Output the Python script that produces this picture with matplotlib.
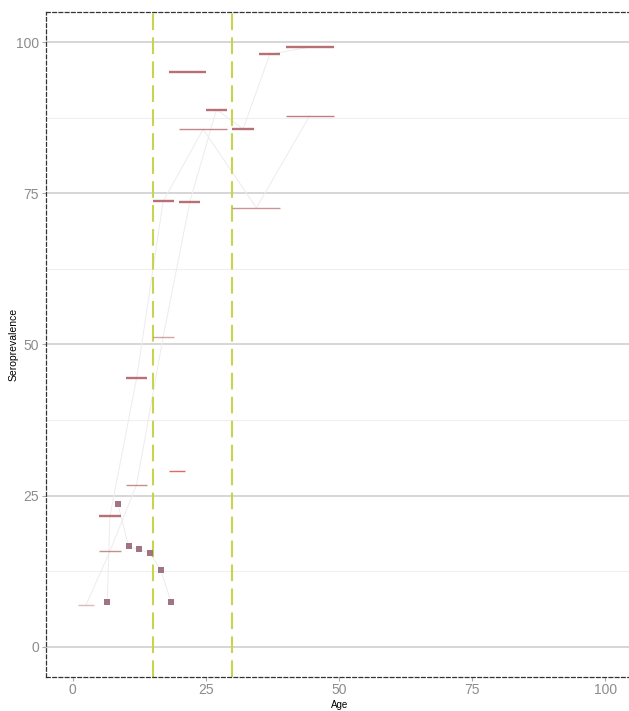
import matplotlib
matplotlib.use("Agg")
import matplotlib.pyplot as plt
import numpy as np

# ---- data -------------------------------------------------------------
# study A: age bands and seroprevalence (%)
a_age_start = [1, 5, 10, 15, 20, 25, 30, 35, 40]
a_age_end = [4, 9, 14, 19, 24, 29, 34, 39, 49]
a_sero = [6.9, 15.8, 26.8, 51.3, 73.6, 88.85, 85.65, 98.0, 99.2]

# study B: age bands and seroprevalence (%), first group measured at a single age
b_point_age = [6.5]
b_point_sero = [7.4]
b_age_start = [5, 10, 15, 20, 30, 40]
b_age_end = [9, 14, 19, 29, 39, 49]
b_sero = [21.6, 44.4, 73.7, 85.6, 72.6, 87.85]

# study C: single-age groups
c_age = [8.5, 10.5, 12.5, 14.5, 16.5, 18.5]
c_sero = [23.6, 16.6, 16.1, 15.5, 12.75, 7.4]

# single-group studies
d_age_start = [18, 18]
d_age_end = [21, 25]
d_sero = [29.0, 95.0]

# age cut-offs
age_cutoffs = [15, 30]

# ---- styles -----------------------------------------------------------
seg_color = "#b5686c"
a_alpha = [0.45, 0.75, 0.75, 0.6, 0.95, 0.95, 0.95, 0.95, 0.95]
a_lw = [1.0, 1.0, 1.0, 1.0, 1.7, 1.7, 1.7, 1.7, 1.7]
b_alpha = [0.95, 0.95, 0.95, 0.8, 0.7, 0.85]
b_lw = [1.7, 1.7, 1.7, 1.0, 1.0, 1.0]
d_color = ["#d96f5b", seg_color]
d_alpha = [1.0, 0.95]
d_lw = [1.0, 1.7]

link_color = "#ececec"
point_color = "#9c6d7e"
cutoff_color = "#c6d44e"
tick_color = "#8c8c8c"

W, H = 629, 711
fig = plt.figure(figsize=(W / 100, H / 100), dpi=100)
left_px, right_px, top_px, bottom_px = 46.0, 632.0, 12.0, 677.0
ax_w = right_px - left_px
ax_h = bottom_px - top_px
ax = fig.add_axes([left_px / W, (H - bottom_px) / H, ax_w / W, ax_h / H])

ax.set_xlim(-5, 105)
ax.set_ylim(-5, 105)

# horizontal grid only
ax.set_yticks([0, 25, 50, 75, 100])
ax.set_yticks([12.5, 37.5, 62.5, 87.5], minor=True)
ax.set_xticks([0, 25, 50, 75, 100])
ax.grid(axis="y", which="major", color="#cccccc", lw=1.1, zorder=0)
ax.grid(axis="y", which="minor", color="#efefef", lw=0.8, zorder=0)
ax.grid(axis="x", visible=False)
ax.set_axisbelow(True)


def mids(starts, ends):
    return [(s + e) / 2 for s, e in zip(starts, ends)]


# connecting lines between group midpoints
ax.plot(mids(a_age_start, a_age_end), a_sero, color=link_color, lw=0.7, zorder=1)
ax.plot(b_point_age + mids(b_age_start, b_age_end), b_point_sero + b_sero,
        color=link_color, lw=0.7, zorder=1)
ax.plot(c_age, c_sero, color=link_color, lw=0.7, zorder=1)

# age cut-offs
for xc in age_cutoffs:
    ax.axvline(xc, color=cutoff_color, lw=1.5, linestyle=(0, (8, 3.5)), zorder=2)

# age-band segments
for s, e, v, al, w in zip(a_age_start, a_age_end, a_sero, a_alpha, a_lw):
    ax.plot([s, e], [v, v], color=seg_color, alpha=al, lw=w,
            solid_capstyle="butt", zorder=3)
for s, e, v, al, w in zip(b_age_start, b_age_end, b_sero, b_alpha, b_lw):
    ax.plot([s, e], [v, v], color=seg_color, alpha=al, lw=w,
            solid_capstyle="butt", zorder=3)
for s, e, v, c, al, w in zip(d_age_start, d_age_end, d_sero, d_color, d_alpha, d_lw):
    ax.plot([s, e], [v, v], color=c, alpha=al, lw=w,
            solid_capstyle="butt", zorder=3)

# single-age groups
ax.scatter(b_point_age + c_age, b_point_sero + c_sero, marker="s", s=22,
           color=point_color, alpha=0.95, linewidths=0, zorder=4)

# dashed panel border
for side in ["left", "right", "top", "bottom"]:
    sp = ax.spines[side]
    sp.set_linestyle((0, (3, 2)))
    sp.set_linewidth(0.9)
    sp.set_color("#333333")

tick_font = ["Liberation Sans Narrow", "Liberation Sans", "DejaVu Sans"]
ax.tick_params(axis="both", which="major", length=3, width=0.8, color="#aaaaaa",
               labelcolor=tick_color, labelsize=10)
ax.tick_params(axis="both", which="minor", length=0)
ax.tick_params(axis="x", pad=1.5)
ax.tick_params(axis="y", pad=2)
for lab in ax.get_xticklabels() + ax.get_yticklabels():
    lab.set_family(tick_font)

ax.set_xlabel("Age", fontsize=7, family=tick_font)
ax.set_ylabel("Seroprevalence", fontsize=7.5, family=["Liberation Sans", "DejaVu Sans"])
ax.xaxis.set_label_coords((340 - left_px) / ax_w, -(705 - bottom_px) / ax_h)
ax.yaxis.set_label_coords(-(left_px - 14) / ax_w, 0.5)
ax.xaxis.label.set_verticalalignment("center")
ax.yaxis.label.set_verticalalignment("center")

fig.savefig("out.png", dpi=100)
